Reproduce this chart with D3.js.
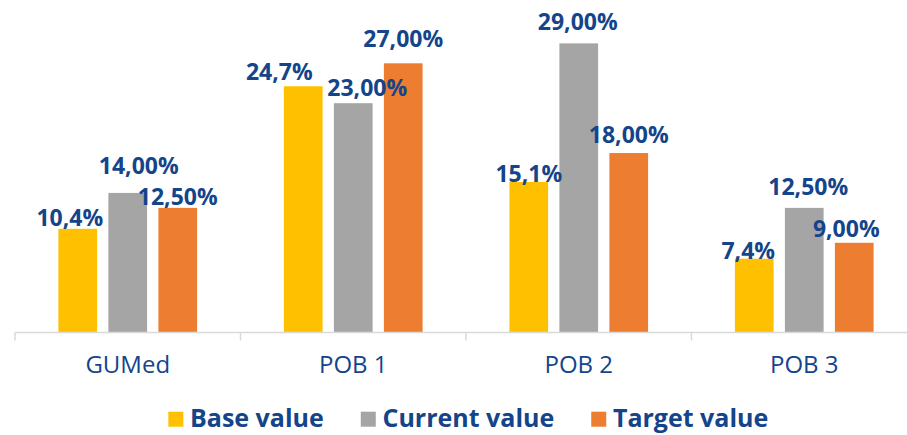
<!DOCTYPE html>
<html>
<head>
<meta charset="utf-8">
<script src="https://cdn.jsdelivr.net/npm/d3@7"></script>
<style>
  body { margin: 0; background: #fff; }
  svg { display: block; }
</style>
</head>
<body>
<div class="chart"></div>
<script>
var categories = ['GUMed', 'POB 1', 'POB 2', 'POB 3'];
var seriesNames = ['Base value', 'Current value', 'Target value'];
var baseValues = [10.4, 24.7, 15.1, 7.4];
var currentValues = [14.0, 23.0, 29.0, 12.5];
var targetValues = [12.5, 27.0, 18.0, 9.0];

// label nudges (dx, dy) per series and category, as placed in the original
var labelNudge = [
    [[-8, -3], [-24, -6], [0, 0], [-6, 0]],
    [[11, -19], [14, -7], [-1, -13], [4, -13]],
    [[0, -3], [0, -16], [0, -10], [-8, -6]]
];

var colors = ['#FFC000', '#A5A5A5', '#ED7D31'];
var textColor = '#14448A';
var w = 907, h = 435;

var values = [baseValues, currentValues, targetValues];
var data = [];
categories.forEach(function (c, ci) {
    seriesNames.forEach(function (s, si) {
        data.push({cat: c, ci: ci, series: s, si: si, value: values[si][ci]});
    });
});

var svg = d3.select('.chart').append('svg')
    .attr('width', w)
    .attr('height', h);

var x0 = d3.scaleBand()
    .domain(categories)
    .range([15, 917]);

var groupW = 138.7;
var x1 = d3.scaleBand()
    .domain(seriesNames)
    .range([(x0.bandwidth() - groupW) / 2, (x0.bandwidth() + groupW) / 2])
    .paddingInner(0.226);

var y = d3.scaleLinear()
    .domain([0, 30])
    .range([332.5, 33.4]);

var loc = d3.formatLocale({decimal: ',', thousands: ' ', grouping: [3], currency: ['', '']});
var fmt1 = loc.format('.1f'), fmt2 = loc.format('.2f');

// bars
svg.selectAll('rect.bar')
    .data(data)
    .enter()
    .append('rect')
    .attr('class', 'bar')
    .attr('x', function (d) { return x0(d.cat) + x1(d.series); })
    .attr('y', function (d) { return y(d.value); })
    .attr('width', x1.bandwidth())
    .attr('height', function (d) { return y(0) - y(d.value); })
    .style('fill', function (d) { return colors[d.si]; });

// axis
var axis = svg.append('g')
    .attr('transform', 'translate(0,' + y(0) + ')');
axis.append('line')
    .attr('x1', 15).attr('x2', w)
    .attr('stroke', '#D9D9D9')
    .attr('stroke-width', 1.5);
axis.selectAll('line.tick')
    .data(categories)
    .enter()
    .append('line')
    .attr('class', 'tick')
    .attr('x1', function (d) { return x0(d); })
    .attr('x2', function (d) { return x0(d); })
    .attr('y1', 0).attr('y2', 8)
    .attr('stroke', '#D9D9D9')
    .attr('stroke-width', 1.5);
axis.selectAll('text')
    .data(categories)
    .enter()
    .append('text')
    .attr('x', function (d) { return x0(d) + x0.bandwidth() / 2; })
    .attr('y', 40.5)
    .attr('text-anchor', 'middle')
    .style('font-family', '"Open Sans", sans-serif')
    .style('font-size', '24px')
    .style('fill', textColor)
    .text(function (d) { return d; });

// value labels
svg.selectAll('text.val')
    .data(data)
    .enter()
    .append('text')
    .attr('class', 'val')
    .attr('x', function (d) {
        return x0(d.cat) + x1(d.series) + x1.bandwidth() / 2 + labelNudge[d.si][d.ci][0];
    })
    .attr('y', function (d) { return y(d.value) + labelNudge[d.si][d.ci][1]; })
    .attr('text-anchor', 'middle')
    .style('font-family', '"Open Sans", sans-serif')
    .style('font-weight', 'bold')
    .style('font-size', '23px')
    .style('fill', textColor)
    .text(function (d) {
        return (d.si === 0 ? fmt1(d.value) : fmt2(d.value)) + '%';
    });

// legend
var legend = svg.append('g');
var items = legend.selectAll('g')
    .data(seriesNames)
    .enter()
    .append('g');
items.append('rect')
    .attr('y', 411.7)
    .attr('width', 15)
    .attr('height', 15)
    .style('fill', function (d, i) { return colors[i]; });
items.append('text')
    .attr('x', 21.7)
    .attr('y', 427.3)
    .style('font-family', '"Open Sans", sans-serif')
    .style('font-weight', 'bold')
    .style('font-size', '25px')
    .style('fill', textColor)
    .text(function (d) { return d; });

var pos = 0, starts = [];
items.each(function () {
    starts.push(pos);
    pos += 21.7 + d3.select(this).select('text').node().getComputedTextLength() + 37;
});
var total = pos - 37;
var left = 468.3 - total / 2;
items.attr('transform', function (d, i) { return 'translate(' + (left + starts[i]) + ',0)'; });
</script>
</body>
</html>
